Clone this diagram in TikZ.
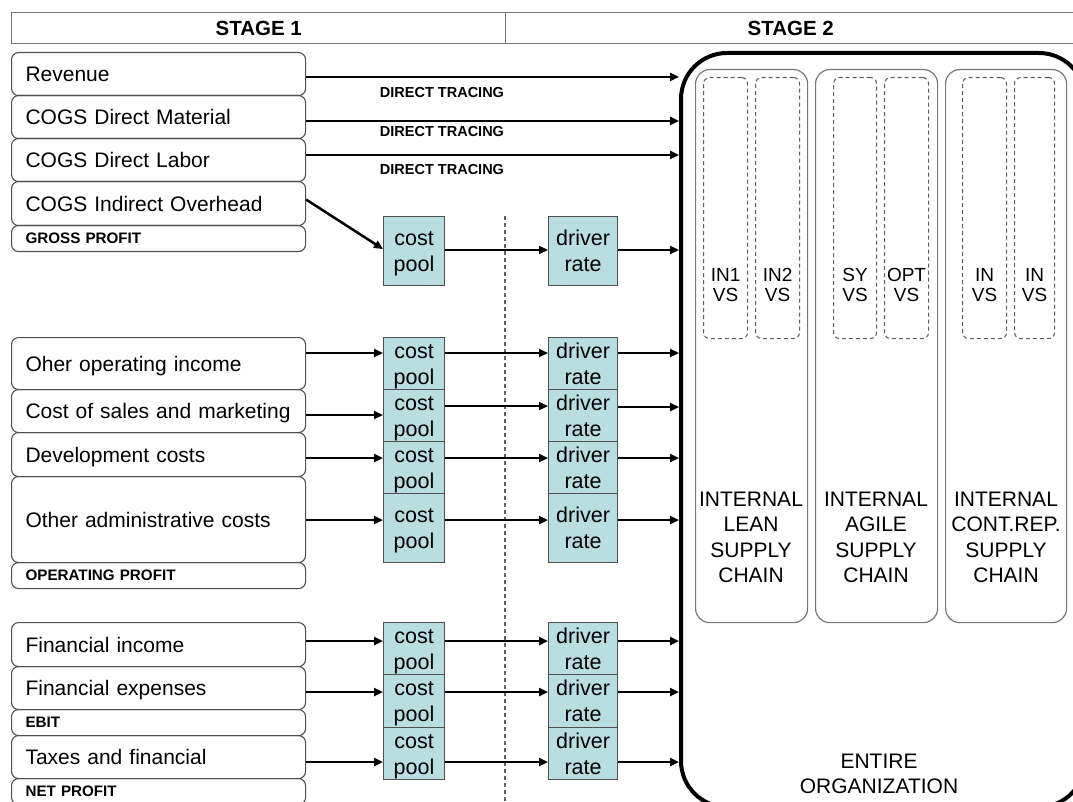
\documentclass[tikz,border=0pt]{standalone}
\usepackage{fontspec}
\setmainfont{Liberation Sans}
\usetikzlibrary{arrows.meta}
\definecolor{poolfill}{HTML}{B8DEE1}
\definecolor{edgegray}{HTML}{505050}
\definecolor{framegray}{HTML}{787878}
\definecolor{dashgray}{HTML}{606060}
% two-line pool text, set with the same vertical extent as "driver rate"
\newcommand{\costpooltext}{\vphantom{d}cost\\\smash{pool}}
\begin{document}
\begin{tikzpicture}[x=1pt,y=-1pt,
  hdr/.style={draw=framegray, line width=1.4pt, rectangle, inner sep=0pt, minimum height=31pt,
    anchor=north west, font=\bfseries\fontsize{20.5}{24}\selectfont},
  itembox/.style={draw=edgegray, line width=1.1pt, rectangle, rounded corners=7pt,
    text width=266pt, text depth=0pt, inner xsep=14pt, inner ysep=0pt, align=left,
    anchor=north west, font=\fontsize{21}{25}\selectfont},
  profitbox/.style={itembox, minimum height=26pt, font=\bfseries\fontsize{15.2}{18}\selectfont},
  poolbox/.style={draw=edgegray, fill=poolfill, line width=1.1pt, rectangle, inner sep=0pt,
    minimum width=61pt, align=center, anchor=north west, font=\fontsize{21.5}{26}\selectfont},
  ratebox/.style={poolbox, minimum width=69pt},
  chainbox/.style={draw=framegray, line width=1.2pt, rectangle, rounded corners=14pt,
    inner sep=0pt, minimum height=553pt, anchor=north west},
  vsbox/.style={draw=dashgray, line width=1.1pt, dash pattern=on 4pt off 3pt, rectangle,
    rounded corners=6pt, inner sep=0pt, minimum height=261pt, anchor=north west},
  vslbl/.style={align=center, inner sep=0pt, font=\fontsize{19}{20}\selectfont},
  chainlbl/.style={align=center, inner sep=0pt, font=\fontsize{21}{25.5}\selectfont},
  tracelbl/.style={inner sep=0pt, font=\bfseries\fontsize{14.5}{17}\selectfont},
  arr/.style={-{Triangle[length=9pt,width=8pt]}, line width=2.5pt},
  divider/.style={draw=dashgray, line width=1.1pt, dash pattern=on 4pt off 3pt}
]
\clip (0,0) rectangle (1073,802);
\fill[white] (0,0) rectangle (1073,802);

% column headers
\node[hdr, minimum width=494pt] (st1) at (11,12) {STAGE 1};
\node[hdr, minimum width=570pt] (st2) at (505,12) {STAGE 2};

% stage 1 cost items
\node[itembox, minimum height=43pt] (rev) at (11,52) {Revenue};
\node[itembox, minimum height=43pt] (dm)  at (11,95) {COGS Direct Material};
\node[itembox, minimum height=43pt] (dl)  at (11,138) {COGS Direct Labor};
\node[itembox, minimum height=44pt] (io)  at (11,181) {COGS Indirect Overhead};
\node[profitbox] (gp) at (11,225) {GROSS PROFIT};

\node[itembox, minimum height=52pt] (ooi) at (11,337) {Oher operating income};
\node[itembox, minimum height=43pt] (csm) at (11,389) {Cost of sales and marketing};
\node[itembox, minimum height=44pt] (dev) at (11,432) {Development costs};
\node[itembox, minimum height=86pt] (oac) at (11,476) {Other administrative costs};
\node[profitbox] (op) at (11,562) {OPERATING PROFIT};

\node[itembox, minimum height=44pt] (fi)  at (11,622) {Financial income};
\node[itembox, minimum height=43pt] (fe)  at (11,666) {Financial expenses};
\node[profitbox] (ebit) at (11,709) {EBIT};
\node[itembox, minimum height=43pt] (tax) at (11,735) {Taxes and financial};
\node[profitbox] (np) at (11,778) {NET PROFIT};

% stage divider
\coordinate (divtop) at (505,216);
\coordinate (divbot) at (505,802);
\draw[divider] (divtop) -- (divbot);

% cost pools and driver rates
\node[poolbox, minimum height=69pt] (cp1) at (383,216) {\costpooltext};
\node[poolbox, minimum height=52pt] (cp2) at (383,337) {\costpooltext};
\node[poolbox, minimum height=52pt] (cp3) at (383,389) {\costpooltext};
\node[poolbox, minimum height=52pt] (cp4) at (383,441) {\costpooltext};
\node[poolbox, minimum height=69pt] (cp5) at (383,493) {\costpooltext};
\node[poolbox, minimum height=52pt] (cp6) at (383,622) {\costpooltext};
\node[poolbox, minimum height=53pt] (cp7) at (383,674) {\costpooltext};
\node[poolbox, minimum height=52pt] (cp8) at (383,727) {\costpooltext};

\node[ratebox, minimum height=69pt] (dr1) at (548,216) {driver\\rate};
\node[ratebox, minimum height=52pt] (dr2) at (548,337) {driver\\rate};
\node[ratebox, minimum height=52pt] (dr3) at (548,389) {driver\\rate};
\node[ratebox, minimum height=52pt] (dr4) at (548,441) {driver\\rate};
\node[ratebox, minimum height=69pt] (dr5) at (548,493) {driver\\rate};
\node[ratebox, minimum height=52pt] (dr6) at (548,622) {driver\\rate};
\node[ratebox, minimum height=53pt] (dr7) at (548,674) {driver\\rate};
\node[ratebox, minimum height=52pt] (dr8) at (548,727) {driver\\rate};

% stage 2: the entire organization
\node[draw, line width=4pt, rectangle, rounded corners=46pt, inner sep=0pt,
  minimum width=404pt, minimum height=754pt, anchor=north west] (org) at (679,51) {};

\node[chainbox, minimum width=112pt] (lean)  at (695,69) {};
\node[chainbox, minimum width=122pt] (agile) at (815,69) {};
\node[chainbox, minimum width=121pt] (cont)  at (945,69) {};

\node[vsbox, minimum width=44pt] (vs1) at (703,77) {};
\node[vsbox, minimum width=44pt] (vs2) at (755,77) {};
\node[vsbox, minimum width=43pt] (vs3) at (833,77) {};
\node[vsbox, minimum width=44pt] (vs4) at (884,77) {};
\node[vsbox, minimum width=44pt] (vs5) at (962,77) {};
\node[vsbox, minimum width=40pt] (vs6) at (1014,77) {};

\node[vslbl] (vs1t) at (vs1.center |- 0,285) {IN1\\VS};
\node[vslbl] (vs2t) at (vs2.center |- 0,285) {IN2\\VS};
\node[vslbl] (vs3t) at (vs3.center |- 0,285) {SY\\VS};
\node[vslbl] (vs4t) at (vs4.center |- 0,285) {OPT\\VS};
\node[vslbl] (vs5t) at (vs5.center |- 0,285) {IN\\VS};
\node[vslbl] (vs6t) at (vs6.center |- 0,285) {IN\\VS};

\node[chainlbl] (leant)  at (751,537.5) {INTERNAL\\LEAN\\SUPPLY\\CHAIN};
\node[chainlbl] (agilet) at (876,537.5) {INTERNAL\\AGILE\\SUPPLY\\CHAIN};
\node[chainlbl] (contt)  at (1006,537.5) {INTERNAL\\CONT.REP.\\SUPPLY\\CHAIN};
\node[chainlbl] (orgt)   at (879,774) {ENTIRE\\ORGANIZATION};

% direct tracing
\draw[arr] (rev.east |- 0,77) -- (org.west |- 0,77);
\draw[arr] (dm.east |- 0,121) -- (org.west |- 0,121);
\draw[arr] (dl.east |- 0,155) -- (org.west |- 0,155);
\node[tracelbl] (tr1) at (442,92.5) {DIRECT TRACING};
\node[tracelbl] (tr2) at (442,131.5) {DIRECT TRACING};
\node[tracelbl] (tr3) at (442,170) {DIRECT TRACING};

% allocation through cost pools and driver rates
\draw[arr] ([yshift=4pt]io.east) -- ([yshift=2pt]cp1.west);
\draw[arr] (cp1.east |- 0,250) -- (dr1.west |- 0,250);
\draw[arr] (dr1.east |- 0,250) -- (org.west |- 0,250);

\draw[arr] (ooi.east |- 0,353) -- (cp2.west |- 0,353);
\draw[arr] (cp2.east |- 0,353) -- (dr2.west |- 0,353);
\draw[arr] (dr2.east |- 0,353) -- (org.west |- 0,353);

\draw[arr] (csm.east |- 0,415) -- (cp3.west |- 0,415);
\draw[arr] (cp3.east |- 0,406) -- (dr3.west |- 0,406);
\draw[arr] (dr3.east |- 0,407) -- (org.west |- 0,407);

\draw[arr] (dev.east |- 0,458) -- (cp4.west |- 0,458);
\draw[arr] (cp4.east |- 0,458) -- (dr4.west |- 0,458);
\draw[arr] (dr4.east |- 0,458) -- (org.west |- 0,458);

\draw[arr] (oac.east |- 0,520) -- (cp5.west |- 0,520);
\draw[arr] (cp5.east |- 0,520) -- (dr5.west |- 0,520);
\draw[arr] (dr5.east |- 0,520) -- (org.west |- 0,520);

\draw[arr] (fi.east |- 0,641) -- (cp6.west |- 0,641);
\draw[arr] (cp6.east |- 0,641) -- (dr6.west |- 0,641);
\draw[arr] (dr6.east |- 0,641) -- (org.west |- 0,641);

\draw[arr] (fe.east |- 0,692) -- (cp7.west |- 0,692);
\draw[arr] (cp7.east |- 0,692) -- (dr7.west |- 0,692);
\draw[arr] (dr7.east |- 0,692) -- (org.west |- 0,692);

\draw[arr] (tax.east |- 0,762) -- (cp8.west |- 0,762);
\draw[arr] (cp8.east |- 0,762) -- (dr8.west |- 0,762);
\draw[arr] (dr8.east |- 0,762) -- (org.west |- 0,762);
\end{tikzpicture}
\end{document}
